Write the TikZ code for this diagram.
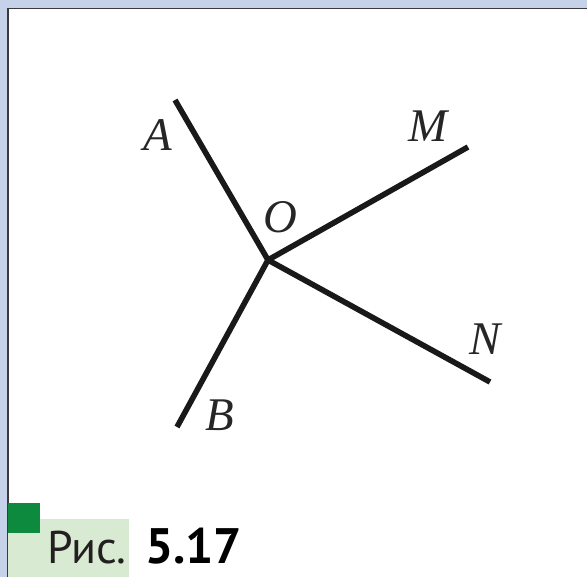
\documentclass[tikz,border=0pt]{standalone}
\usepackage{fontspec}
\newfontfamily\capfont{PT Sans}
\newfontfamily\lblfont{Liberation Serif}
\usetikzlibrary{positioning}
\definecolor{framebl}{HTML}{C6D2EA}
\definecolor{frameline}{HTML}{3A3A3A}
\definecolor{figgreen}{HTML}{0E8A3E}
\definecolor{softgreen}{HTML}{D8EAD2}
\definecolor{captext}{HTML}{231F20}
\tikzset{
  ray/.style={line width=5.6bp, draw=black!90},
  ptlbl/.style={font=\lblfont\itshape\fontsize{47}{50}\selectfont, text=black!85, inner sep=0pt},
  caplbl/.style={font=\capfont\fontsize{46}{50}\selectfont, text=captext, inner sep=0pt, anchor=base west},
}
\begin{document}
\begin{tikzpicture}[x=1bp,y=-1bp]
        \useasboundingbox (0,0) rectangle (587,577);
        % frame
        \fill[framebl] (0,0) rectangle (587,8);
        \fill[framebl] (0,0) rectangle (7,577);
        \draw[frameline, line width=1.5bp] (7.75,577) -- (7.75,8.75) -- (587,8.75);
        % rays from O
        \coordinate (O) at (268,260);
        \coordinate (A) at (175,100);
        \coordinate (B) at (177,427);
        \coordinate (M) at (468,147);
        \coordinate (N) at (490,382);
        \draw[ray] (O) -- (A); \draw[ray] (O) -- (B);
        \draw[ray] (O) -- (M); \draw[ray] (O) -- (N);
        \node[ptlbl] (lA) at (158,135) {A};
        \node[ptlbl] (lO) at (280,217) {O};
        \node[ptlbl] (lM) at (428,126) {M};
        \node[ptlbl] (lN) at (485,339) {N};
        \node[ptlbl] (lB) at (220,415) {B};
        % caption
        \fill[softgreen] (8,519) rectangle (129,577);
        \fill[figgreen] (8,503) rectangle (40,533);
        \node[caplbl] (ris) at (47,563) {Рис.};
        \node[caplbl, font=\capfont\bfseries\fontsize{50}{54}\selectfont, text=black] (num) at (145,563) {5.17};
\end{tikzpicture}
\end{document}
